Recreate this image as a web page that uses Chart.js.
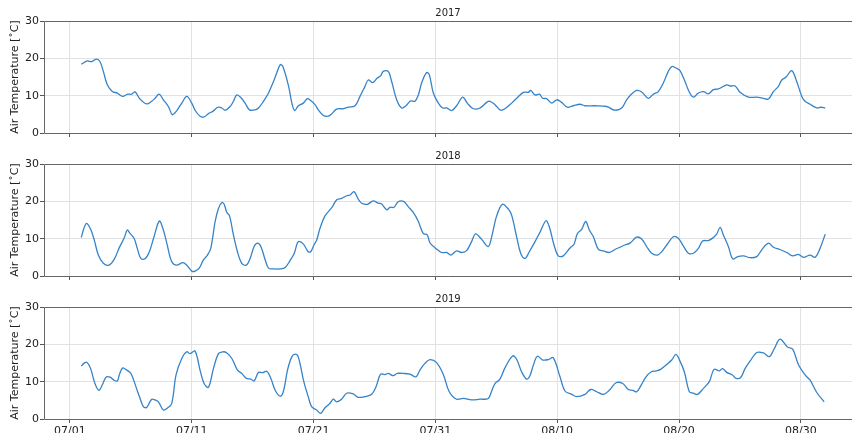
<!DOCTYPE html>
<html>
<head>
<meta charset="utf-8">
<script src="https://cdn.jsdelivr.net/npm/chart.js@4.4.1/dist/chart.umd.min.js"></script>
<style>
  html, body { margin: 0; padding: 0; background: #fff; overflow: hidden; width: 852px; height: 433px; }
  canvas { position: absolute; left: 0; }
</style>
</head>
<body>
<canvas id="c2017" width="852" height="139" style="top:0"></canvas>
<canvas id="c2018" width="852" height="139" style="top:143px"></canvas>
<canvas id="c2019" width="852" height="147" style="top:286px"></canvas>
<script>
// days counted from 07/01 00:00
const tickDays = [0, 10, 20, 30, 40, 50, 60];
const tickLabels = ['07/01', '07/11', '07/21', '07/31', '08/10', '08/20', '08/30'];
const yearTitles = ['2017', '2018', '2019'];

const days2017 = [0.93,1.42,1.78,2.19,2.47,2.74,3.07,3.48,3.89,4.33,4.74,5.07,5.34,5.75,6.3,6.71,6.99,7.32,7.67,8.08,8.41,8.77,9.18,9.59,10.0,10.27,10.68,11.01,11.37,11.73,12.14,12.47,12.74,13.15,13.42,13.7,14.03,14.38,14.74,15.21,15.48,15.89,16.3,16.71,16.99,17.26,17.48,17.95,18.22,18.45,18.75,19.16,19.49,19.76,20.12,20.39,20.8,21.2,21.48,21.89,22.43,22.85,23.4,23.81,24.22,24.49,24.85,25.23,25.5,25.72,26.13,26.41,26.82,27.23,27.59,27.97,28.32,28.6,28.87,29.28,29.5,29.83,30.24,30.6,30.92,31.33,31.74,32.24,32.62,33.11,33.66,34.21,34.48,34.89,35.36,35.79,36.26,36.67,37.22,37.63,37.82,38.18,38.54,38.81,39.13,39.55,39.96,40.37,40.83,41.32,41.87,42.28,43.1,44.06,44.74,45.29,45.7,46.03,46.52,46.93,47.48,47.89,48.3,48.71,49.12,49.4,49.75,50.08,50.49,50.85,51.18,51.59,52.0,52.41,52.82,53.23,53.92,54.19,54.6,55.01,55.7,56.38,56.93,57.34,57.75,58.16,58.43,58.79,59.25,59.66,60.08,60.35,60.76,61.31,61.64,62.0];
const temp2017 = [18.4,19.3,19.1,19.8,19.1,16.5,12.9,11.1,10.7,9.8,10.4,10.4,11.0,9.1,7.8,8.5,9.3,10.4,8.9,7.1,4.9,6.0,8.0,9.8,8.0,6.1,4.5,4.3,5.2,5.8,6.9,6.7,6.1,7.1,8.5,10.2,9.5,8.0,6.2,6.2,6.7,8.5,10.7,13.8,16.2,18.3,17.8,12.5,8.0,6.0,7.3,8.0,9.2,8.7,7.6,6.2,4.7,4.5,5.1,6.4,6.5,6.9,7.3,9.8,12.5,14.2,13.5,14.7,15.3,16.5,16.5,13.8,8.9,6.7,7.3,8.6,8.5,10.2,13.4,16.2,15.6,10.7,8.0,6.7,6.7,6.0,7.3,9.6,8.0,6.5,6.7,8.2,8.5,7.6,6.1,6.7,8.0,9.3,10.9,10.9,11.4,10.2,10.4,9.3,9.2,8.0,8.9,8.2,6.9,7.3,7.7,7.3,7.3,7.1,6.1,6.7,8.9,10.2,11.4,11.0,9.3,10.4,11.1,13.4,16.5,17.8,17.4,16.7,13.8,10.9,9.6,10.7,11.1,10.5,11.6,11.8,12.9,12.6,12.6,10.9,9.6,9.6,9.3,9.1,11.1,12.5,14.2,15.0,16.7,13.8,9.8,8.5,7.7,6.7,6.9,6.7];

const days2018 = [0.93,1.15,1.37,1.7,2.0,2.33,2.74,3.21,3.64,4.05,4.44,4.71,4.93,5.26,5.53,5.81,6.16,6.52,6.9,7.34,7.67,7.95,8.36,8.77,9.26,9.59,10.0,10.27,10.63,10.96,11.29,11.56,11.92,12.19,12.47,12.66,12.88,13.1,13.42,13.75,14.11,14.47,14.79,15.12,15.4,15.67,16.03,16.3,16.71,17.26,17.67,18.08,18.41,18.74,19.15,19.56,19.76,20.03,20.25,20.53,20.94,21.49,21.9,22.31,22.72,23.0,23.32,23.68,23.95,24.41,24.9,25.31,25.59,26.0,26.27,26.6,26.95,27.42,27.77,28.24,28.6,29.0,29.33,29.55,29.96,30.51,30.92,31.27,31.74,32.15,32.56,32.97,33.3,33.8,34.34,34.62,35.03,35.5,35.99,36.26,36.67,37.0,37.36,37.71,38.18,38.64,39.08,39.35,39.74,40.09,40.5,41.05,41.38,41.66,42.01,42.34,42.64,42.97,43.38,43.79,44.28,44.74,45.15,45.56,45.97,46.52,46.93,47.34,47.76,48.22,48.58,48.99,49.53,49.94,50.36,50.77,51.18,51.59,51.94,52.41,52.82,53.09,53.37,53.64,54.05,54.41,54.82,55.29,55.83,56.38,56.79,57.34,57.75,58.29,58.84,59.33,59.8,60.21,60.76,61.17,61.53,62.0];
const temp2018 = [10.3,12.8,14.1,12.5,9.6,5.6,3.4,2.9,4.5,7.6,10.1,12.3,11.4,10.1,7.4,4.7,4.6,6.5,10.5,14.7,12.3,8.8,3.8,2.9,3.6,2.9,1.3,1.3,2.2,4.3,5.6,7.4,14.6,18.1,19.7,19.2,17.0,16.1,11.0,6.5,3.4,2.9,4.7,7.9,8.8,7.9,4.3,2.1,1.9,1.9,2.3,4.2,6.0,9.2,8.6,6.5,6.5,8.3,9.6,12.8,16.1,18.3,20.4,20.8,21.5,21.7,22.6,20.5,19.5,19.2,20.1,19.5,19.3,17.7,18.4,18.4,19.9,19.9,18.6,16.8,14.6,11.4,11.0,8.9,7.6,6.3,6.3,5.6,6.7,6.3,6.8,9.2,11.3,9.8,7.9,10.5,16.1,19.2,17.9,16.3,10.5,6.1,4.7,6.5,9.2,12.1,14.8,13.2,8.3,5.4,5.4,7.5,8.5,11.4,12.5,14.6,12.3,10.5,7.1,6.7,6.3,7.1,7.7,8.3,8.8,10.4,9.9,7.9,6.1,5.6,6.5,8.3,10.5,10.1,8.0,6.1,6.1,7.4,9.4,9.5,10.3,11.2,13.0,11.0,7.9,4.6,5.2,5.4,4.9,5.2,7.0,8.8,7.7,7.1,6.3,5.4,5.8,5.0,5.6,5.0,7.0,11.2];

const days2019 = [0.93,1.23,1.42,1.7,2.05,2.38,2.68,2.96,3.29,3.62,3.89,4.05,4.33,4.66,5.01,5.42,5.7,6.03,6.3,6.71,6.99,7.26,7.67,8.03,8.36,8.71,9.18,9.59,9.86,10.27,10.68,11.01,11.37,11.78,12.19,12.55,12.88,13.29,13.75,14.11,14.47,14.85,15.12,15.48,15.81,16.16,16.49,16.85,17.26,17.53,17.86,18.22,18.5,18.74,19.2,19.56,19.84,20.25,20.58,20.94,21.35,21.62,21.89,22.3,22.71,23.26,23.67,24.22,24.77,25.12,25.5,25.86,26.13,26.54,26.87,27.36,27.91,28.41,28.73,29.14,29.55,30.1,30.65,31.14,31.74,32.29,32.97,33.66,34.34,34.62,34.89,35.3,35.71,36.34,36.67,37.08,37.49,37.76,38.04,38.37,38.81,39.27,39.68,40.23,40.64,41.19,41.6,42.28,42.75,43.24,43.79,44.28,44.83,45.38,45.84,46.2,46.52,46.93,47.29,47.7,48.11,48.49,48.99,49.4,49.75,50.08,50.44,50.85,51.18,51.53,52.0,52.49,52.87,53.31,53.58,53.91,54.38,54.68,55.06,55.42,55.83,56.38,56.93,57.42,57.8,58.29,58.9,59.33,59.8,60.35,60.76,61.31,61.91];
const temp2019 = [14.2,15.1,15.1,13.5,9.5,7.7,9.3,11.2,11.2,10.4,10.2,11.8,13.7,13.1,12.2,8.6,6.0,3.3,3.1,5.3,5.1,4.6,2.4,3.0,4.2,11.8,16.2,18.0,17.5,18.2,13.1,9.5,8.5,13.5,17.5,18.0,17.7,16.2,13.1,12.2,10.9,10.7,10.2,12.5,12.4,12.8,10.9,7.7,6.1,7.5,13.1,16.7,17.4,16.7,10.0,6.0,3.3,2.4,1.5,3.0,4.2,5.3,4.6,5.3,6.9,6.7,5.8,6.0,6.6,8.6,12.0,11.9,12.2,11.6,12.2,12.2,12.0,11.3,13.1,14.9,15.9,15.1,11.9,7.3,5.3,5.5,5.1,5.3,5.5,7.5,9.5,10.7,13.7,16.9,16.0,12.6,10.7,11.6,14.4,16.8,15.8,15.9,16.4,11.3,7.5,6.6,6.0,6.6,7.9,7.3,6.6,7.7,9.7,9.5,7.9,7.7,7.3,9.3,11.3,12.6,12.9,13.3,14.6,15.8,17.3,15.5,12.6,7.3,6.9,6.6,8.2,10.0,13.3,12.9,13.5,12.5,11.8,10.9,11.1,13.5,15.5,17.8,17.7,16.7,18.7,21.4,19.3,18.7,14.6,11.8,10.4,7.1,4.6];

const series = [[days2017, temp2017], [days2018, temp2018], [days2019, temp2019]];
const canvasIds = ['c2017', 'c2018', 'c2019'];

const FONT = 'DejaVu Sans';
// left, top and bottom spines; the right one lies outside the picture
const frame = {
  id: 'frame',
  afterDraw(chart) {
    const a = chart.chartArea, ctx = chart.ctx;
    const l = Math.round(a.left) + 0.5, t = Math.round(a.top) + 0.5, b = Math.round(a.bottom) + 0.5;
    ctx.save();
    ctx.strokeStyle = '#666';
    ctx.lineWidth = 1;
    ctx.beginPath();
    ctx.moveTo(a.right, t); ctx.lineTo(l, t); ctx.lineTo(l, b); ctx.lineTo(a.right, b);
    ctx.stroke();
    ctx.restore();
  }
};

series.forEach(([days, temps], k) => {
  const last = k === series.length - 1;
  new Chart(document.getElementById(canvasIds[k]), {
    type: 'line',
    data: {
      datasets: [{
        data: days.map((d, i) => ({ x: d, y: temps[i] })),
        borderColor: '#3583c8',
        borderWidth: 1.3,
        pointRadius: 0,
        tension: 0.35,
        fill: false
      }]
    },
    options: {
      responsive: false,
      devicePixelRatio: 1,
      animation: false,
      layout: { padding: 0 },
      plugins: {
        legend: { display: false },
        tooltip: { enabled: false },
        title: {
          display: true, text: yearTitles[k], fullSize: false,
          color: '#222', font: { family: FONT, size: 10, weight: 'normal' },
          padding: { top: 7, bottom: 2 }
        }
      },
      scales: {
        x: {
          type: 'linear', min: -2.13, max: 64.2,
          afterBuildTicks: s => { s.ticks = tickDays.map(v => ({ value: v })); },
          afterFit: s => { s.height = last ? 14 : 6; s.paddingLeft = 0; s.paddingRight = 0; },
          border: { display: false },
          grid: { color: '#e2e2e2', tickColor: '#555', tickLength: 4, lineWidth: 1 },
          ticks: {
            display: last, padding: 2, maxRotation: 0, autoSkip: false,
            color: '#222', font: { family: FONT, size: 11 },
            callback: (v, i) => tickLabels[i]
          }
        },
        y: {
          min: 0, max: 30,
          afterFit: s => { s.width = 44; s.paddingTop = 0; s.paddingBottom = 0; },
          border: { display: false },
          grid: { color: '#e2e2e2', tickColor: '#555', tickLength: 4 },
          ticks: { stepSize: 10, padding: 1, color: '#222', font: { family: FONT, size: 11 } },
          title: {
            display: true, text: 'Air Temperature [˚C]', color: '#222',
            font: { family: FONT, size: 11 }, padding: { top: 9, bottom: 0 }
          }
        }
      }
    },
    plugins: [frame]
  });
});
</script>
</body>
</html>
